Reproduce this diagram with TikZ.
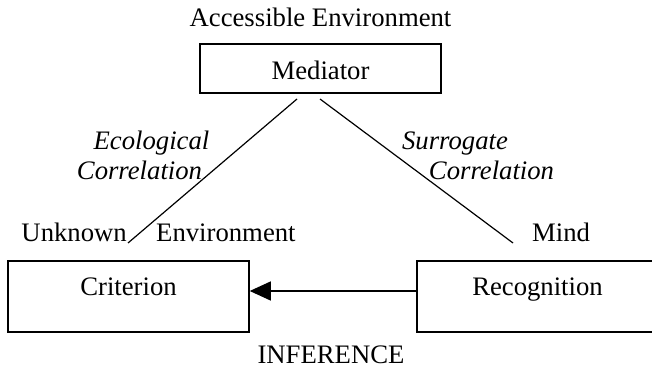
\documentclass[tikz,border=0pt]{standalone}
\usepackage{fontspec}
\setmainfont{Liberation Serif}
\usetikzlibrary{arrows.meta}
\tikzset{
  box/.style={draw,line width=1.5pt,inner sep=0pt,minimum width=241pt,anchor=base},
  lab/.style={anchor=base,inner sep=0pt},
  ar/.style={-{Triangle[length=21pt,width=19pt]},line width=1.3pt},
  ln/.style={line width=1.2pt}
}
\begin{document}
\begin{tikzpicture}[x=1pt,y=1pt,font=\fontsize{26.7}{30}\selectfont]
\useasboundingbox (0,0) rectangle (652,369);
\node[lab] (acc) at (320.5,342) {Accessible Environment};
\node[box,text height=36pt,text depth=13pt] (med) at (320.5,289) {Mediator};
\node[box,text height=35pt,text depth=36pt] (crit) at (128.5,73) {Criterion};
\node[box,text height=35pt,text depth=36pt] (rec) at (537.5,73) {Recognition};
% the two correlations
\coordinate (ecotop) at (297,270);
\coordinate (ecobot) at (128,126);
\coordinate (surtop) at (320,270);
\coordinate (surbot) at (513,126);
\draw[ln] (ecotop) -- (ecobot);
\draw[ln] (surtop) -- (surbot);
\node[lab,font=\fontsize{26.7}{30}\itshape] (eco1) at (151.5,219) {Ecological};
\node[lab,font=\fontsize{26.7}{30}\itshape] (eco2) at (139.5,189) {Correlation};
\node[lab,font=\fontsize{26.7}{30}\itshape] (sur1) at (455,219) {Surrogate};
\node[lab,font=\fontsize{26.7}{30}\itshape] (sur2) at (491.5,189) {Correlation};
\node[lab,anchor=base east] (unk) at (127,127) {Unknown};
\node[lab,anchor=base west] (env) at (156,127) {Environment};
\node[lab,anchor=base west] (mind) at (532,127) {Mind};
% inference
\draw[ar] ([yshift=5.5pt]rec.west) -- ([yshift=5.5pt]crit.east);
\node[lab] (inf) at (331,6) {INFERENCE};
\end{tikzpicture}
\end{document}
